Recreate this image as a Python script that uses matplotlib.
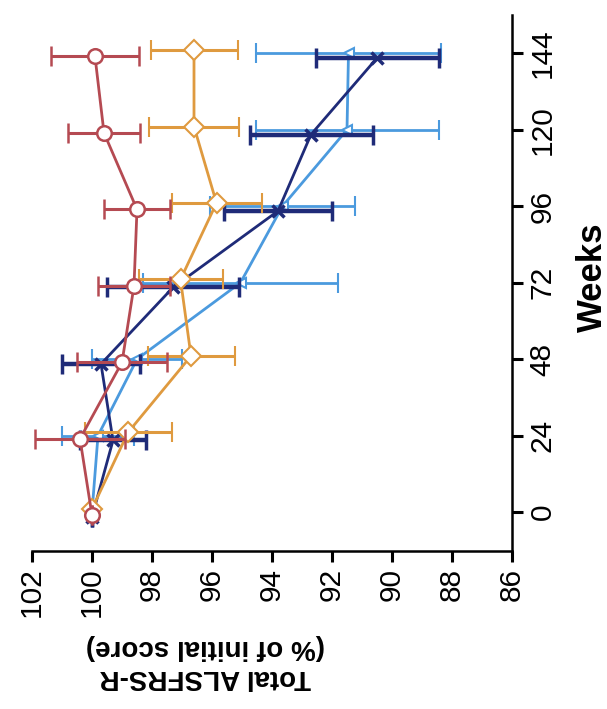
import matplotlib.pyplot as plt
import numpy as np

plt.rcParams['font.family'] = ['Liberation Sans', 'DejaVu Sans']

weeks = [0, 24, 48, 72, 96, 120, 144]

# % of initial ALSFRS-R score, mean and error per group
red_mean = [100.0, 100.4, 99.0, 98.6, 98.5, 99.6, 99.9]
red_err = [0.0, 1.5, 1.5, 1.2, 1.1, 1.2, 1.45]
orange_mean = [100.0, 98.8, 96.7, 97.05, 95.85, 96.6, 96.6]
orange_err = [0.0, 1.45, 1.45, 1.4, 1.5, 1.5, 1.45]
light_mean = [100.0, 99.8, 98.5, 95.05, 93.65, 91.5, 91.45]
light_err = [0.0, 1.2, 1.5, 3.25, 2.4, 3.05, 3.1]
navy_mean = [100.0, 99.3, 99.7, 97.3, 93.8, 92.7, 90.5]
navy_err = [0.0, 1.1, 1.3, 2.2, 1.8, 2.05, 2.05]

fig = plt.figure(figsize=(6.07, 7.09), dpi=100)
ax = fig.add_axes([32 / 607, 1 - 551 / 709, 480 / 607, 536 / 709])

w = np.array(weeks, dtype=float)

# light blue, triangles
ax.errorbar(light_mean, w, xerr=light_err, color='#4b9ade', lw=2, elinewidth=2,
            capsize=7, capthick=2.5, marker='<', ms=7, mfc='white', mec='#4b9ade',
            mew=1.5, zorder=2)
# navy, crosses
ax.errorbar(navy_mean, w - 1.5, xerr=navy_err, color='#1f2b78', lw=2, elinewidth=3.2,
            capsize=7, capthick=2.5, marker='x', ms=9, mew=2.5, zorder=3)
# orange, diamonds
ax.errorbar(orange_mean, w + 1, xerr=orange_err, color='#df9a3f', lw=2, elinewidth=2.2,
            capsize=7, capthick=2.5, marker='D', ms=10, mfc='white', mec='#df9a3f',
            mew=1.5, zorder=4)
# red, circles
ax.errorbar(red_mean, w - 1, xerr=red_err, color='#b54a52', lw=2, elinewidth=2.2,
            capsize=7, capthick=2.5, marker='o', ms=10.5, mfc='white', mec='#b54a52',
            mew=1.8, zorder=5)

ax.set_xlim(102, 86)
ax.set_ylim(-12.2, 156)
ax.set_xticks(np.arange(102, 85, -2))
ax.set_yticks(weeks)
ax.spines['top'].set_visible(False)
ax.spines['left'].set_visible(False)
ax.spines['bottom'].set_linewidth(1.8)
ax.spines['right'].set_linewidth(1.8)
ax.yaxis.tick_right()
ax.tick_params(axis='both', length=8, width=2.2, labelsize=21.5, pad=4)
ax.tick_params(axis='x', labelrotation=90)
ax.tick_params(axis='y', labelrotation=90)
for lab in ax.get_yticklabels():
    lab.set_verticalalignment('center')

fig.text(592 / 607, 1 - 277 / 709, 'Weeks', rotation=90, fontsize=25,
         fontweight='bold', ha='center', va='center')
fig.text(205 / 607, 1 - 662 / 709, 'Total ALSFRS-R\n(% of initial score)',
         rotation=180, fontsize=20, fontweight='bold', ha='center', va='center',
         multialignment='center', linespacing=1.2)

fig.savefig('out.png', dpi=100)
